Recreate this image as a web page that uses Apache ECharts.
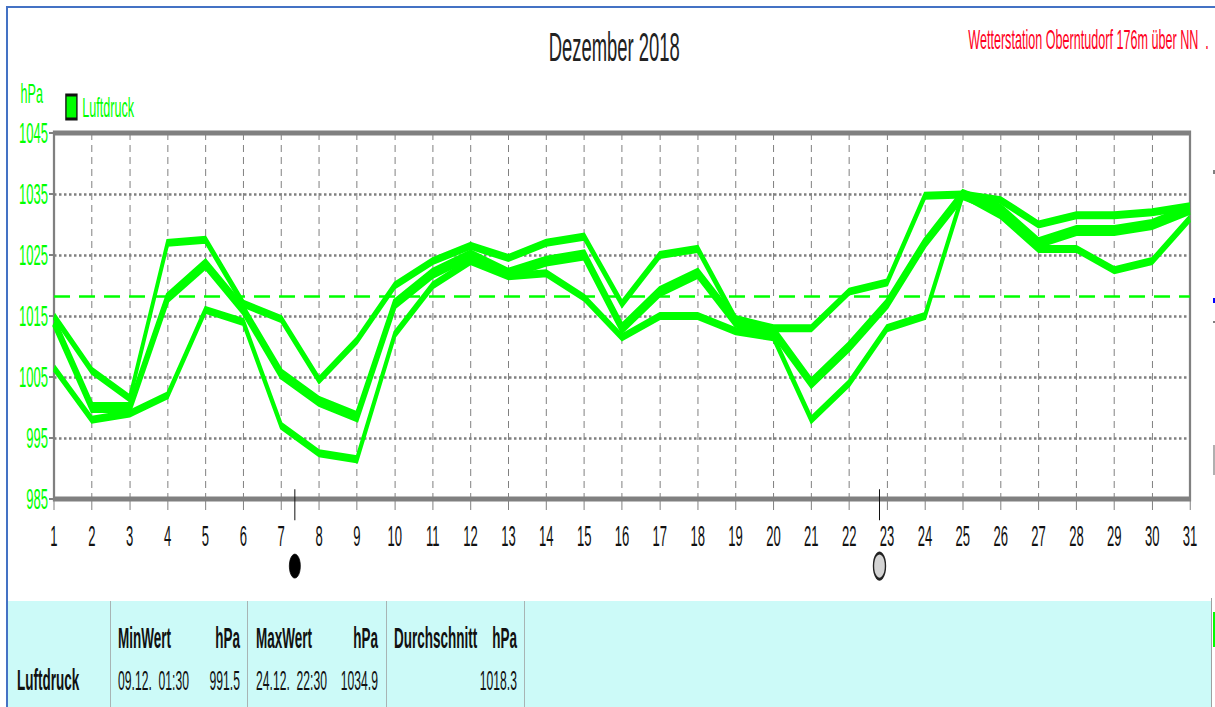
<!DOCTYPE html>
<html>
<head>
<meta charset="utf-8">
<script src="https://cdn.jsdelivr.net/npm/echarts@6/dist/echarts.min.js"></script>
<style>
html,body{margin:0;padding:0;background:#fff;overflow:hidden}
#wrap{position:absolute;left:0;top:0;width:1215px;height:707px;overflow:hidden}
#main{position:absolute;left:0;top:0;height:707px;transform-origin:0 0}
</style>
</head>
<body>
<div id="wrap"><div id="main"></div></div>
<script>
// ---- data ----
const days = [1,2,3,4,5,6,7,8,9,10,11,12,13,14,15,16,17,18,19,20,21,22,23,24,25,26,27,28,29,30,31];
const yTicks = [985,995,1005,1015,1025,1035,1045];
const pressureMax = [1015,1006,1001.5,1027,1027.5,1017,1014.5,1004.5,1011,1020,1024,1026.5,1024.5,1027,1028,1017,1025,1026,1014.5,1013,1013,1019,1020.5,1034.7,1034.9,1034,1030,1031.5,1031.5,1032,1033];
const pressureMid = [1014,1000,1000,1018,1023.5,1016,1005.5,1001,998.5,1017,1022,1025,1022,1024,1025,1013,1019,1022,1014,1012.5,1004,1010,1017,1027,1034.9,1032.5,1027,1029,1029,1030,1032.5];
const pressureMin = [1006.5,998,999,1002,1016,1014,997,992.5,991.5,1012,1020,1024,1021.5,1022,1018,1011.5,1015,1015,1012.5,1011.5,998,1004,1013,1015,1034.9,1031.5,1026,1026,1022.5,1024,1031];
const meanValue = [1018.3];
const newMoonDay = [7.36];
const fullMoonDay = [22.8];
const statsRow = ["09.12.  01:30","991.5","24.12.  22:30","1034.9","1018.3"];

// ---- layout: text in the reference is horizontally condensed ----
const S = 0.45;
const px = x => x / S;
const FONT = '"Liberation Sans", Arial, sans-serif';
const el = document.getElementById('main');
el.style.width = px(1215) + 'px';
el.style.transform = 'scaleX(' + S + ')';
const chart = echarts.init(el, null, {renderer:'svg', width:px(1215), height:707});

const pair = a => a.map((v,i)=>[days[i],v]);
const green = '#00ff00';
const txt = (x,y,text,opt={}) => ({type:'text',z:20,x:px(x),y:y,silent:true,style:Object.assign({
  text, fill:'#111', font:'27px '+FONT, align:'left', verticalAlign:'middle'},opt)});
const bold = '700 30px '+FONT;
const rect = (x,y,w,h,fill,z=1) => ({type:'rect',z,silent:true,shape:{x:px(x),y,width:px(w),height:h},style:{fill}});

const lineSeries = (data,w) => ({name:'Luftdruck',type:'line',data:pair(data),symbol:'none',z:5,
  lineStyle:{color:green,width:w,join:'miter'},itemStyle:{color:green,borderColor:'#111',borderWidth:3}});

chart.setOption({
  animation:false,
  backgroundColor:'#fff',
  title:[
    {text:'Dezember 2018',left:px(612),top:21,textAlign:'center',textStyle:{fontFamily:FONT,fontWeight:'normal',fontSize:41,color:'#222'}},
    {text:'Wetterstation Oberntudorf 176m über NN  .',left:px(966),top:20,textStyle:{fontFamily:FONT,fontWeight:'normal',fontSize:28,color:'#ff0022'}}
  ],
  legend:{left:px(63),top:88,data:['Luftdruck'],icon:'rect',itemWidth:px(11),itemHeight:24,itemGap:0,
    textStyle:{color:green,fontFamily:FONT,fontSize:28,padding:[0,0,0,px(3)]},
    itemStyle:{color:green,borderColor:'#111',borderWidth:3}},
  grid:{left:px(54),top:133,width:px(1136),height:366,show:true,borderColor:'#808080',borderWidth:5,backgroundColor:'transparent'},
  xAxis:{type:'value',min:1,max:31,interval:1,
    axisLine:{show:false},
    axisTick:{show:true,length:11,lineStyle:{color:'#808080',width:px(1)}},
    axisLabel:{show:true,color:'#111',fontFamily:FONT,fontSize:29,margin:23,showMinLabel:true,showMaxLabel:true,formatter:v=>String(v)},
    splitLine:{show:true,lineStyle:{color:'#808080',width:px(1),type:[7,5]}}},
  yAxis:{type:'value',min:985,max:1045,
    name:'hPa',nameLocation:'end',nameGap:26,
    nameTextStyle:{color:green,fontFamily:FONT,fontSize:28,align:'right',padding:[0,px(11),0,0]},
    axisLine:{show:false},
    axisTick:{show:true,length:px(5),customValues:yTicks,lineStyle:{color:'#808080',width:2}},
    axisLabel:{show:true,color:green,fontFamily:FONT,fontSize:29,margin:px(6),customValues:yTicks,padding:[12,0,0,0],formatter:v=>String(v)},
    splitLine:{show:true,lineStyle:{color:'#808080',width:2.5,type:[px(2.5),px(2.5)]}}},
  series:[
    lineSeries(pressureMax,8),
    lineSeries(pressureMid,11),
    lineSeries(pressureMin,8),
    {name:'Durchschnitt',type:'line',data:[],z:4,markLine:{silent:true,symbol:'none',label:{show:false},
      lineStyle:{color:green,width:2.5,type:[px(16),px(9)]},data:[{yAxis:meanValue[0]}]}},
    {name:'Neumond',type:'line',clip:false,symbol:'none',z:6,lineStyle:{color:'#111',width:px(1)},
      data:[[newMoonDay[0],986.6],[newMoonDay[0],981.5]]},
    {name:'Vollmond',type:'line',clip:false,symbol:'none',z:6,lineStyle:{color:'#111',width:px(1)},
      data:[[fullMoonDay[0],986.6],[fullMoonDay[0],981.5]]},
    {name:'Neumond Symbol',type:'scatter',clip:false,symbol:'circle',symbolSize:[px(11),24],z:6,
      itemStyle:{color:'#000',opacity:1,borderColor:'#000',borderWidth:1},data:[[newMoonDay[0],974]]},
    {name:'Vollmond Symbol',type:'scatter',clip:false,symbol:'circle',symbolSize:[px(12),26],z:6,
      itemStyle:{color:'#d4d4d4',opacity:1,borderColor:'#222',borderWidth:3},data:[[fullMoonDay[0],974]]}
  ],
  graphic:[
    rect(8,601,1204,106,'#ccfaf8'),
    rect(110,601,1,106,'#a8b4b4',2),rect(247,601,1,106,'#a8b4b4',2),rect(386,601,1,106,'#a8b4b4',2),rect(524,601,1,106,'#a8b4b4',2),
    rect(6,6,1209,2,'#4472c4',3),rect(6,6,2,701,'#4472c4',3),
    rect(1211,598,1,109,'#a0a0a0',3),rect(1213,612,2,35,green,3),
    rect(1213,170,2,4,'#808080',3),rect(1213,298,2,5,'#0000ff',3),rect(1213,321,2,2,'#808080',3),rect(1213,445,2,30,'#b0b0b0',3),
    txt(17,680,'Luftdruck',{font:bold}),
    txt(118,638,'MinWert',{font:bold}),txt(240,638,'hPa',{font:bold,align:'right'}),
    txt(118,680,statsRow[0]),txt(240,680,statsRow[1],{align:'right'}),
    txt(256,638,'MaxWert',{font:bold}),txt(378,638,'hPa',{font:bold,align:'right'}),
    txt(256,680,statsRow[2]),txt(378,680,statsRow[3],{align:'right'}),
    txt(394,638,'Durchschnitt',{font:bold}),txt(517,638,'hPa',{font:bold,align:'right'}),
    txt(517,680,statsRow[4],{align:'right'})
  ]
});
</script>
</body>
</html>
